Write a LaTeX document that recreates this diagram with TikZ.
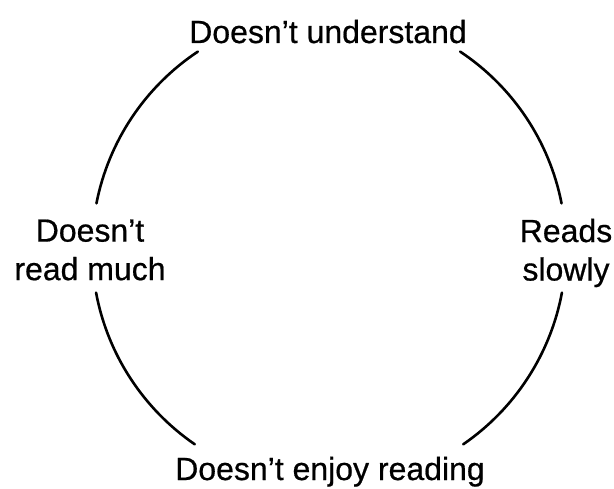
\documentclass[tikz,border=0pt]{standalone}
\usepackage{fontspec}
\setmainfont{Liberation Sans}[FakeBold=0.6]
\begin{document}
\begin{tikzpicture}[x=1pt,y=1pt,
  lbl/.style={inner sep=0pt, font=\fontsize{32}{38.5}\selectfont, align=center},
  arcline/.style={line width=2.6pt, line cap=round}]
\useasboundingbox (0,0) rectangle (614,488);
\coordinate (c) at (329,239);
\node[lbl, anchor=base] (nTop) at (328,445) {Doesn’t understand};
\node[lbl, anchor=base] (nBottom) at (330,8) {Doesn’t enjoy reading};
\node[lbl, anchor=center] (nLeft) at (90,238) {Doesn’t\\read much};
\node[lbl, anchor=center] (nRight) at (566,235) {Reads\\slowly};
\draw[arcline] (c) ++(123.6:237) arc[start angle=123.6, end angle=168.9, radius=237];
\draw[arcline] (c) ++(56.4:237) arc[start angle=56.4, end angle=11.1, radius=237];
\draw[arcline] (c) ++(190.6:237) arc[start angle=190.6, end angle=235.5, radius=237];
\draw[arcline] (c) ++(-10.6:237) arc[start angle=-10.6, end angle=-55.5, radius=237];
\end{tikzpicture}
\end{document}
